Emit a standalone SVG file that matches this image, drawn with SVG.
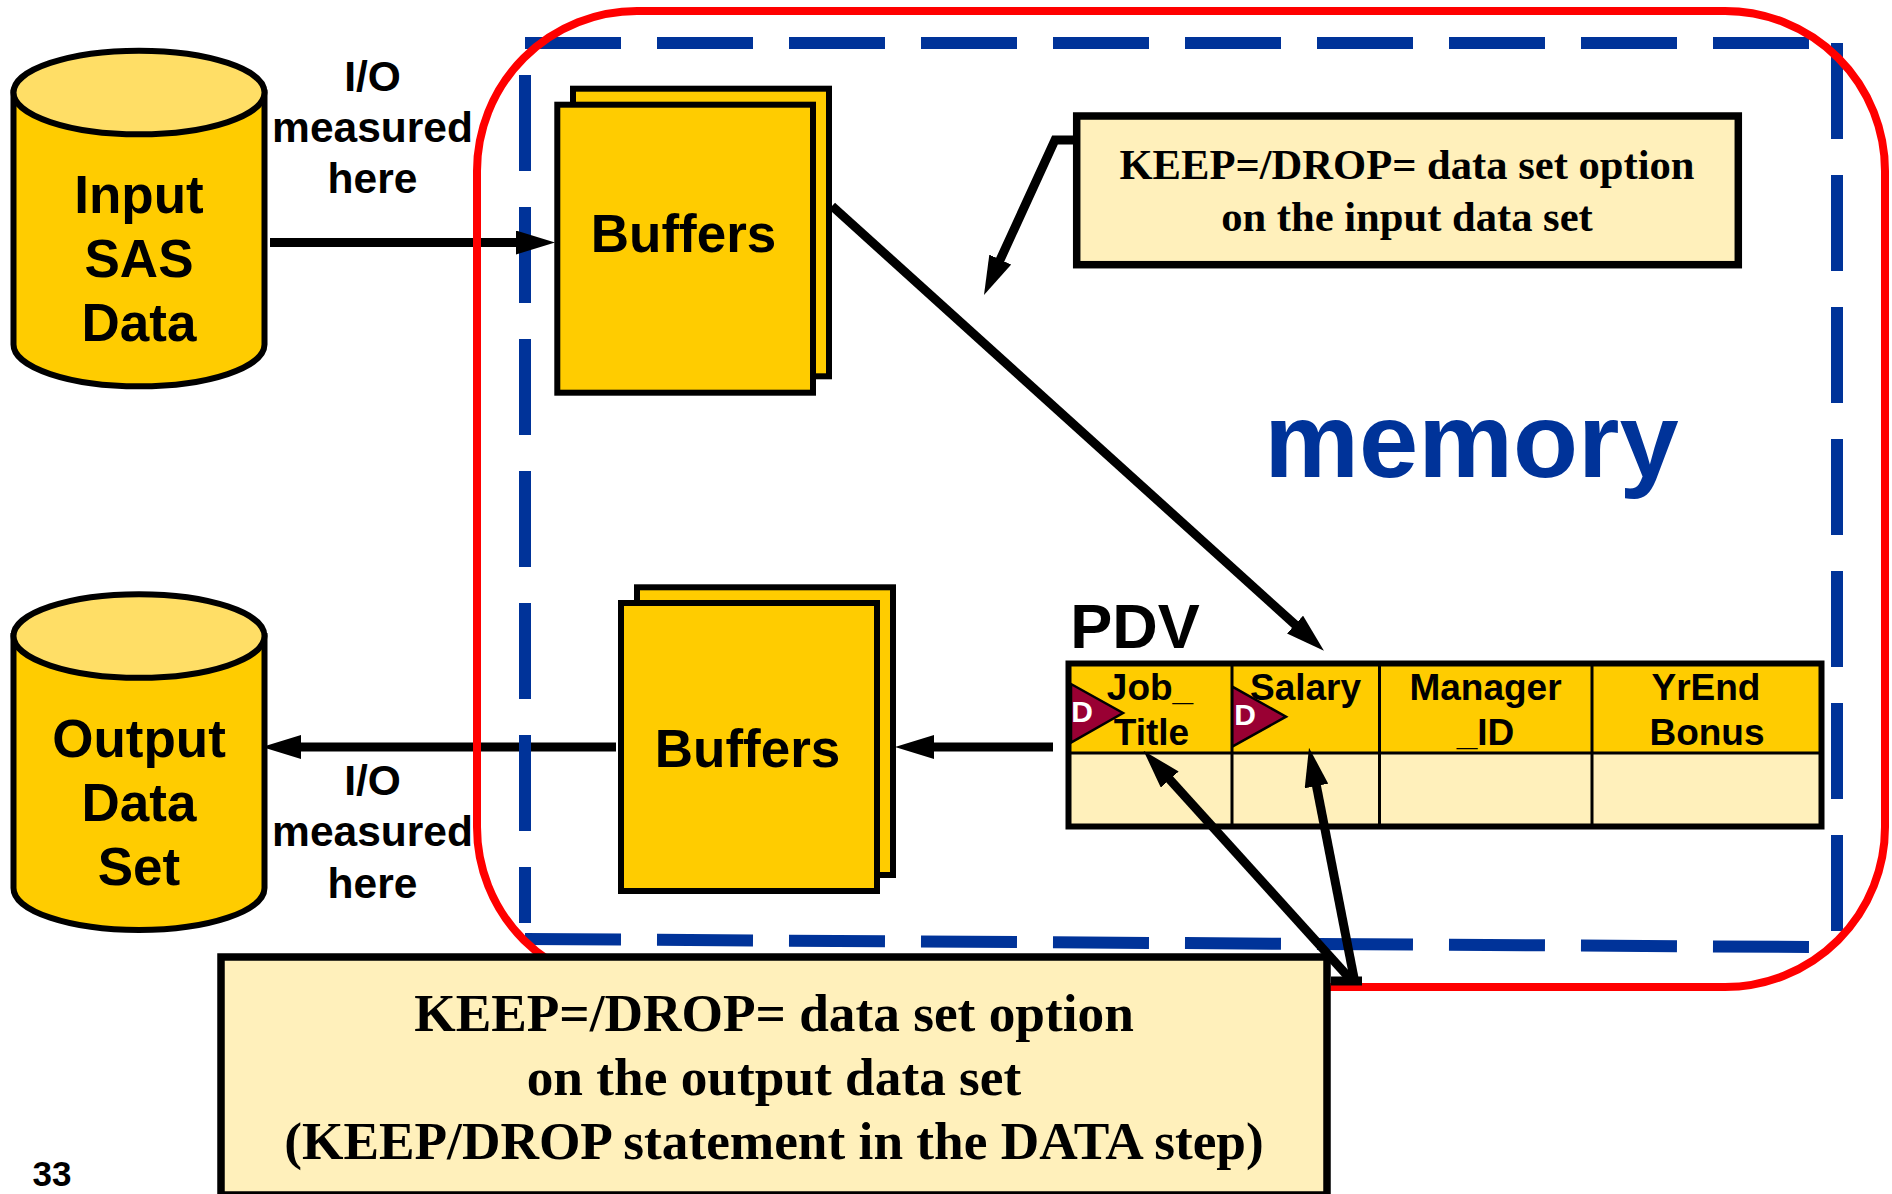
<svg xmlns="http://www.w3.org/2000/svg" width="1892" height="1194" viewBox="0 0 1892 1194">
<style>
text{font-family:"Liberation Sans",Arial,sans-serif;font-weight:bold;text-anchor:middle;fill:#000}
.serif{font-family:"Liberation Serif","Times New Roman",serif}
.big{font-size:53px}.io{font-size:42.5px}.cell{font-size:37px}
.co1{font-size:42.6px}.co2{font-size:53.3px}
.body{fill:#FFCC00;stroke:#000;stroke-width:6}
.lid{fill:#FFDE66;stroke:#000;stroke-width:6}
.note{fill:#FFF0BB;stroke:#000;stroke-width:7.5}
.line{fill:none;stroke:#000;stroke-width:9}
.arrow{marker-end:url(#head)}
.dash{fill:none;stroke:#003399;stroke-width:12;stroke-dasharray:96 36}
.grid{fill:none;stroke:#000;stroke-width:3}
.flag{fill:#990033;stroke:#000;stroke-width:2.5}
.flagt{font-size:30px;fill:#fff}
</style>
<defs>
<marker id="head" markerUnits="userSpaceOnUse" viewBox="0 0 39 24" refX="2" refY="12" markerWidth="39" markerHeight="24" orient="auto"><polygon points="0,0 39,12 0,24" fill="#000"/></marker>
</defs>
<rect width="1892" height="1194" fill="#fff"/>

<g id="input-data">
<path class="body" d="M13.5 92.5V344.5A125.5 41.8 0 0 0 264.5 344.5V92.5Z"/>
<ellipse class="lid" cx="139" cy="92.5" rx="125.5" ry="41.8"/>
<text class="big" x="139" y="213">Input</text><text class="big" x="139" y="277">SAS</text><text class="big" x="139" y="341">Data</text>
</g>
<g id="output-data">
<path class="body" d="M13.5 636V888A125.5 42 0 0 0 264.5 888V636Z"/>
<ellipse class="lid" cx="139" cy="636" rx="125.5" ry="41.8"/>
<text class="big" x="139" y="757">Output</text><text class="big" x="139" y="821">Data</text><text class="big" x="139" y="885">Set</text>
</g>
<g id="io-input-label"><text class="io" x="372.5" y="91">I/O</text><text class="io" x="372.5" y="142">measured</text><text class="io" x="372.5" y="193">here</text></g>
<g id="io-output-label"><text class="io" x="372.5" y="795">I/O</text><text class="io" x="372.5" y="846">measured</text><text class="io" x="372.5" y="897.5">here</text></g>

<g id="connectors-back">
<line class="line" x1="270" y1="242.5" x2="518" y2="242.5"/>
<line class="line arrow" x1="616" y1="747" x2="299" y2="747"/>
</g>

<g id="memory-dashes">
<line class="dash" x1="525" y1="43" x2="1809" y2="43"/>
<line class="dash" x1="525" y1="75" x2="525" y2="923"/>
<line class="dash" x1="1837" y1="43" x2="1837" y2="931"/>
<line class="dash" x1="525" y1="939" x2="1809" y2="947"/>
</g>
<g id="memory-boundary"><rect x="477" y="11" width="1408" height="976" rx="160" ry="160" fill="none" stroke="#FF0000" stroke-width="8"/></g>

<g id="buffers-input">
<rect class="body" x="573" y="88.7" width="256" height="287.6"/>
<rect class="body" x="557.3" y="104.7" width="255.7" height="288"/>
<text class="big" x="683.5" y="252">Buffers</text>
</g>
<g id="buffers-output">
<rect class="body" x="637" y="587.3" width="256" height="287.7"/>
<rect class="body" x="621" y="603" width="256" height="288"/>
<text class="big" x="747.5" y="767">Buffers</text>
</g>

<g id="memory-label"><text x="1471.5" y="477" font-size="106.5" style="fill:#003399">memory</text></g>

<g id="callout-input">
<rect class="note" x="1076.7" y="116" width="661.6" height="148.7"/>
<text class="serif co1" x="1407" y="179">KEEP=/DROP= data set option</text>
<text class="serif co1" x="1407" y="231">on the input data set</text>
</g>

<g id="pdv">
<text x="1135" y="648" font-size="63">PDV</text>
<rect x="1068.5" y="663.5" width="753" height="89.5" fill="#FFCC00"/>
<rect x="1068.5" y="753" width="753" height="73.5" fill="#FFF0BB"/>
<path class="grid" d="M1068.5 753H1821.5M1232 663.5V826.5M1379.5 663.5V826.5M1592 663.5V826.5"/>
<rect x="1068.5" y="663.5" width="753" height="163" fill="none" stroke="#000" stroke-width="6"/>
<polygon class="flag" points="1071,684 1123,713 1071,742.7"/>
<text class="flagt" x="1082" y="722">D</text>
<polygon class="flag" points="1232.3,686.7 1286,716.7 1232.3,746.7"/>
<text class="flagt" x="1245.2" y="725">D</text>
<text class="cell" x="1150" y="699.5">Job_</text><text class="cell" x="1151.5" y="744.5">Title</text>
<text class="cell" x="1305.5" y="699.5">Salary</text>
<text class="cell" x="1485.5" y="699.5">Manager</text><text class="cell" x="1485.5" y="744.5">_ID</text>
<text class="cell" x="1706" y="699.5">YrEnd</text><text class="cell" x="1707" y="744.5">Bonus</text>
</g>

<g id="callout-output">
<rect class="note" x="221" y="957" width="1106" height="238"/>
<text class="serif co2" x="774" y="1031">KEEP=/DROP= data set option</text>
<text class="serif co2" x="774" y="1095">on the output data set</text>
<text class="serif co2" x="774" y="1159">(KEEP/DROP statement in the DATA step)</text>
</g>

<g id="page-number"><text x="52" y="1186" font-size="35">33</text></g>

<g id="connectors">
<line class="line arrow" x1="515" y1="242.5" x2="518" y2="242.5"/>
<line class="line arrow" x1="1053" y1="747" x2="932" y2="747"/>
<line class="line arrow" x1="832" y1="206" x2="1296.5" y2="625.9"/>
<polyline class="line arrow" points="1073,140 1055,140 999.4,261.4"/>
<line class="line arrow" x1="1353" y1="982" x2="1168.4" y2="778.1"/>
<line class="line arrow" x1="1355" y1="983" x2="1316.1" y2="784"/>
<line class="line" x1="1331" y1="981" x2="1362" y2="981"/>
</g>
</svg>
